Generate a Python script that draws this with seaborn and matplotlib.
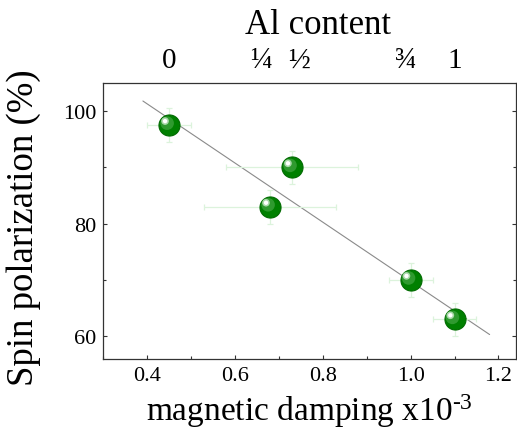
import numpy as np
import pandas as pd
import matplotlib
matplotlib.use("Agg")
import matplotlib.pyplot as plt
import matplotlib.transforms as mtransforms
import seaborn as sns

# data
damping = [0.45, 0.68, 0.73, 1.00, 1.10]
polarization = [97.5, 83.0, 90.0, 70.0, 63.0]
damping_err = [0.05, 0.15, 0.15, 0.05, 0.05]
polarization_err = [3.0, 3.0, 3.0, 3.0, 3.0]
fit_range = [0.39, 1.18]
al_positions = [0.45, 0.66, 0.745, 0.99, 1.10]
al_labels = ["0", "\u00bc", "\u00bd", "\u00be", "1"]

df = pd.DataFrame({"damping": damping, "polarization": polarization})

sns.set_theme(style="ticks")
plt.rcParams['font.family'] = ['Liberation Serif', 'DejaVu Serif']
plt.rcParams['mathtext.fontset'] = 'custom'
plt.rcParams['mathtext.rm'] = 'Liberation Serif'
plt.rcParams['mathtext.it'] = 'Liberation Serif:italic'
plt.rcParams['text.color'] = 'black'
plt.rcParams['axes.labelcolor'] = 'black'

fig = plt.figure(figsize=(5.17, 4.31), dpi=100)
ax = fig.add_axes([0.2, 0.165, 0.798, 0.64])

# linear fit
slope, intercept = np.polyfit(damping, polarization, 1)
fx = np.array(fit_range)
sns.lineplot(x=fx, y=slope * fx + intercept, ax=ax, color="#8a8a8a", linewidth=0.8)

# faint error bars
ax.errorbar(damping, polarization, xerr=damping_err, yerr=polarization_err,
            fmt="none", ecolor="#dcf3dc", elinewidth=0.9, capsize=2, capthick=0.9, zorder=2)

# green spheres
sns.scatterplot(data=df, x="damping", y="polarization", ax=ax, s=230,
                color="#008000", edgecolor="#006a00", linewidth=0.8, zorder=3)
shift1 = ax.transData + mtransforms.ScaledTranslation(-1.5 / 72, 1.5 / 72, fig.dpi_scale_trans)
ax.scatter(damping, polarization, s=95, color="#2f9a2f", edgecolor="none", transform=shift1, zorder=4)
shift2 = ax.transData + mtransforms.ScaledTranslation(-3 / 72, 3 / 72, fig.dpi_scale_trans)
ax.scatter(damping, polarization, s=30, color="#a8d8a8", edgecolor="none", transform=shift2, zorder=5)
ax.scatter(damping, polarization, s=10, color="white", edgecolor="none", transform=shift2, zorder=6)

ax.set_xlim(0.3, 1.24)
ax.set_ylim(56, 105)
ax.set_xticks([0.4, 0.6, 0.8, 1.0, 1.2])
ax.set_xticks(np.arange(0.3, 1.25, 0.1), minor=True)
ax.set_yticks([60, 80, 100])
ax.set_yticks([60, 70, 80, 90, 100], minor=True)
ax.set_xticklabels(["0.4", "0.6", "0.8", "1.0", "1.2"])

ax.tick_params(which="both", direction="in", right=True, top=False, colors="#333333",
               labelcolor="black", labelsize=16, width=0.8)
ax.tick_params(which="major", length=3, pad=5)
ax.tick_params(which="minor", length=2)
for sp in ax.spines.values():
    sp.set_visible(True)
    sp.set_color("#333333")
    sp.set_linewidth(0.9)

ax.set_xlabel("magnetic damping x10$^{\\text{-}3}$", fontsize=24)
ax.set_ylabel("Spin polarization (%)", fontsize=26.5)
ax.xaxis.set_label_coords(0.5, -0.118)
ax.yaxis.set_label_coords(-0.152, 0.48)

# top axis: Al content
top = ax.twiny()
top.set_xlim(ax.get_xlim())
top.set_xticks(al_positions)
top.set_xticklabels(al_labels, fontsize=21)
top.tick_params(axis="x", length=0, pad=7, labelcolor="black")
top.set_xlabel("Al content", fontsize=25)
top.xaxis.set_label_coords(0.52, 1.18)
for sp in top.spines.values():
    sp.set_visible(False)

fig.savefig("out.png", dpi=100)
